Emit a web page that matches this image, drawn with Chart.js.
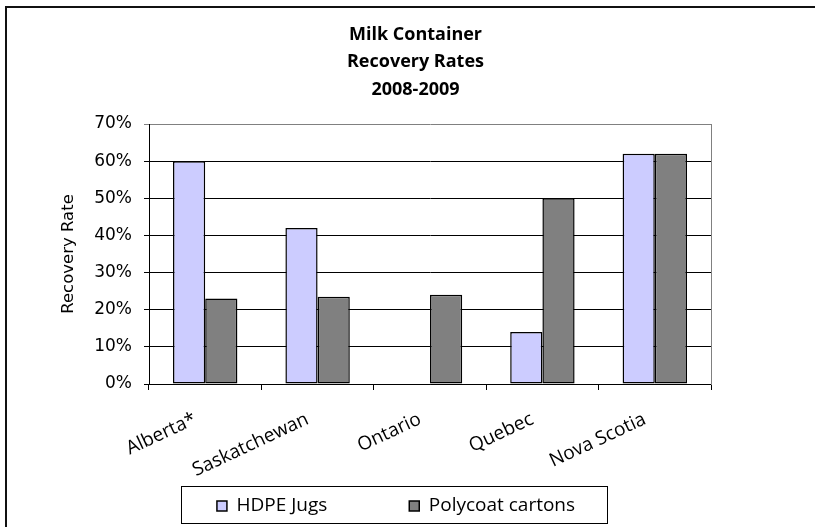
<!DOCTYPE html>
<html><head><meta charset="utf-8">
<script src="https://cdn.jsdelivr.net/npm/chart.js@4"></script>
<style>
html,body{margin:0;padding:0;background:#fff;overflow:hidden;width:815px;height:527px}
#frame{position:absolute;left:5px;top:6px;width:840px;height:560px;border:2px solid #111;box-sizing:border-box}
canvas{position:absolute;left:0;top:0}
</style></head><body>
<div id="frame"></div>
<canvas id="c" width="815" height="527"></canvas>
<script>
const categories = ['Alberta*', 'Saskatchewan', 'Ontario', 'Quebec', 'Nova Scotia'];
const hdpeJugs = [60, 42, null, 14, 62];
const polycoatCartons = [23, 23.5, 24, 50, 62];
const seriesNames = ['HDPE Jugs', 'Polycoat cartons'];
const yTickLabels = ['0%', '10%', '20%', '30%', '40%', '50%', '60%', '70%'];
const titleLines = ['Milk Container', 'Recovery Rates', '2008-2009'];
const yAxisTitle = 'Recovery Rate';

const LEG_PAD = 82;
const LEG_FONT = 19;
const legendFix = {
  id: 'legendFix',
  beforeUpdate(chart) {
    const lg = chart.legend;
    if (lg && !lg._fx) {
      const f = lg.fit;
      lg.fit = function () { f.call(this); this.height = 37; };
      lg._fx = true;
    }
  },
  afterLayout(chart) {
    const lg = chart.legend;
    const cx = 396;
    const dx = cx - (lg.left + lg.right) / 2;
    lg.left += dx; lg.right += dx;
    lg._boxTop = lg.top; lg._boxBottom = lg.bottom;
    const span = lg.lineWidths[0] - LEG_PAD;
    lg._boxL = cx - span / 2 - 36;
    lg._boxR = cx + span / 2 + 32;
    lg.top = 506 - LEG_PAD - LEG_FONT / 2;
    const tb = chart.titleBlock;
    if (tb) { tb.left += 8; tb.right += 8; }
  },
  afterDraw(chart) {
    const lg = chart.legend, ctx = chart.ctx;
    ctx.save();
    ctx.strokeStyle = '#000';
    ctx.lineWidth = 1;
    ctx.strokeRect(Math.round(lg._boxL) + 0.5, Math.round(lg._boxTop) + 0.5,
      Math.round(lg._boxR - lg._boxL), Math.round(lg._boxBottom - lg._boxTop));
    ctx.restore();
  }
};

new Chart(document.getElementById('c'), {
  type: 'bar',
  data: {
    labels: categories,
    datasets: [
      { label: seriesNames[0], data: hdpeJugs, backgroundColor: '#CCCCFF', borderColor: '#000', borderWidth: 1.5,
        borderSkipped: false, categoryPercentage: 0.573, barPercentage: 1 },
      { label: seriesNames[1], data: polycoatCartons, backgroundColor: '#808080', borderColor: '#000', borderWidth: 1.5,
        borderSkipped: false, categoryPercentage: 0.573, barPercentage: 1 }
    ]
  },
  options: {
    responsive: false,
    animation: false,
    devicePixelRatio: 1,
    layout: { padding: { left: 0, right: 0, top: 0, bottom: 4 } },
    plugins: {
      title: {
        display: true,
        text: titleLines,
        color: '#000',
        font: { family: 'Open Sans', size: 18, weight: 'bold', lineHeight: 27.5 / 18 },
        padding: { top: 21, bottom: 20.5 }
      },
      legend: {
        position: 'bottom',
        labels: {
          color: '#000',
          boxWidth: 10, boxHeight: 10,
          padding: LEG_PAD,
          font: { family: 'Open Sans', size: LEG_FONT }
        }
      },
      tooltip: { enabled: false }
    },
    scales: {
      x: {
        offset: true,
        grid: { display: true, drawOnChartArea: false, drawTicks: true, tickLength: 6, color: '#000', offset: true },
        border: { display: true, color: '#000', width: 1 },
        ticks: {
          color: '#000', minRotation: 25, maxRotation: 25, autoSkip: false,
          font: { family: 'Open Sans', size: 19 }, padding: 18, labelOffset: -10
        },
        afterFit(s) { s.height = 102; }
      },
      y: {
        min: 0, max: 70,
        ticks: {
          stepSize: 10, color: '#000', padding: 12,
          font: { family: 'DejaVu Sans', size: 17 },
          callback: (v, i) => yTickLabels[i]
        },
        grid: {
          color: (c) => (c.tick && c.tick.value === 70 ? '#808080' : '#000'),
          tickLength: 5, drawTicks: true, lineWidth: 1
        },
        border: { display: true, color: '#000', width: 1 },
        title: {
          display: true, text: yAxisTitle, color: '#000',
          font: { family: 'DejaVu Sans', size: 16.5 },
          padding: { top: 59, bottom: 0 }
        },
        afterFit(s) { s.width = 149; }
      },
      y2: {
        position: 'right',
        min: 0, max: 70,
        grid: { display: false, drawOnChartArea: false },
        ticks: { display: false },
        border: { display: true, color: '#808080', width: 1 },
        afterFit(s) { s.width = 104; }
      }
    }
  },
  plugins: [legendFix]
});
</script>
</body></html>
